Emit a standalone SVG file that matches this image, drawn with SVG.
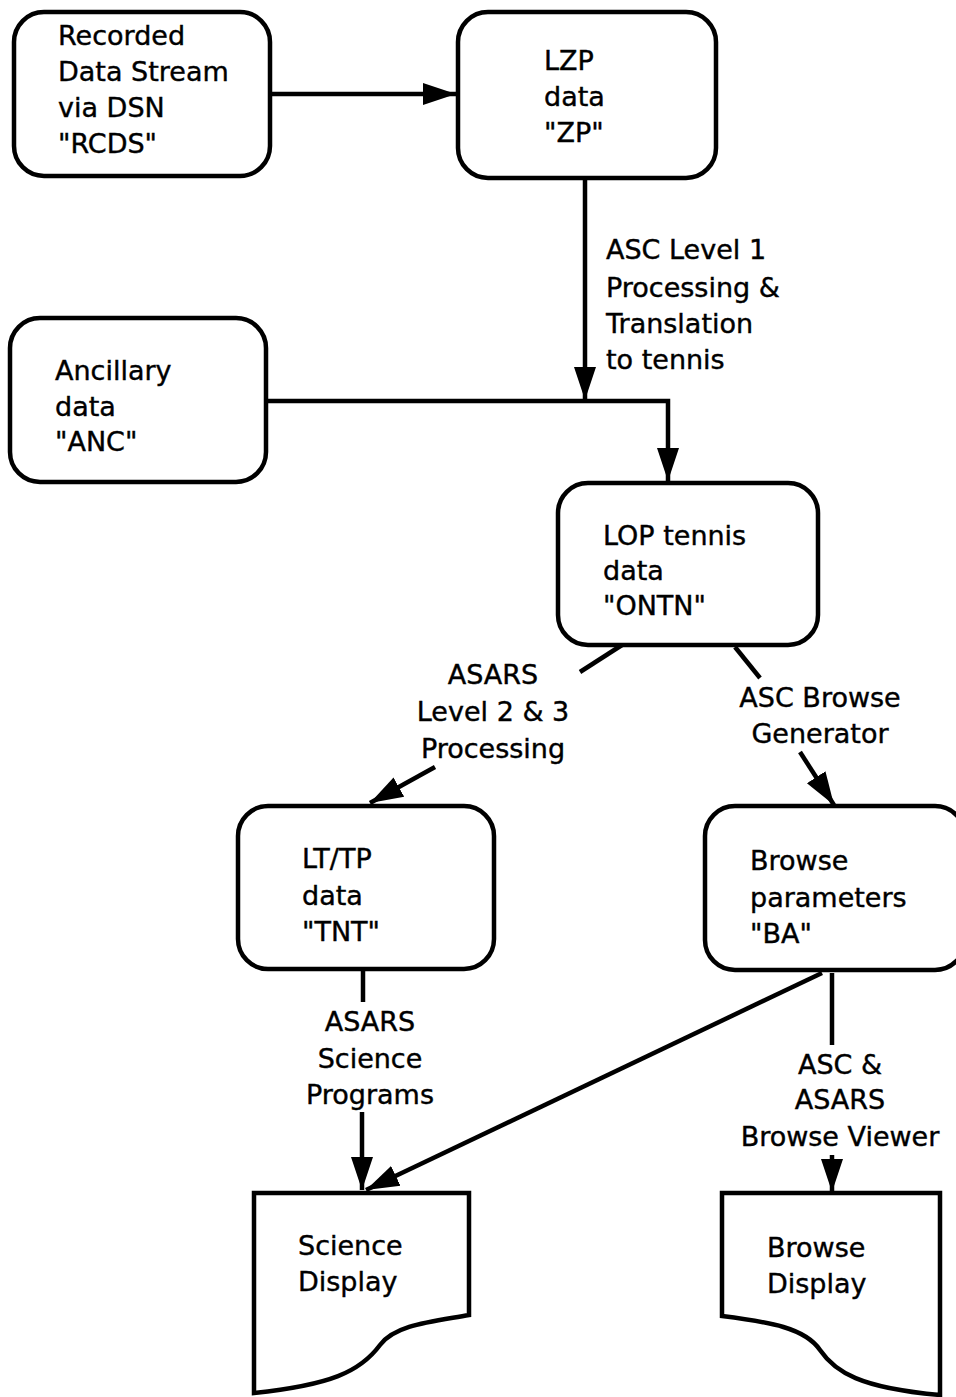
<svg xmlns="http://www.w3.org/2000/svg" width="956" height="1397" viewBox="0 0 956 1397">
<style>
.box{fill:#fff;stroke:#000;stroke-width:4.5}
.ln{fill:none;stroke:#000;stroke-width:4.5}
text{font-family:"DejaVu Sans","Liberation Sans",sans-serif;font-size:27px;fill:#000;stroke:#000;stroke-width:0.4}
.c{text-anchor:middle}
</style>
<defs>
<marker id="ah" markerUnits="userSpaceOnUse" markerWidth="36" markerHeight="26" refX="33" refY="13" orient="auto">
<path d="M0,2 L33,13 L0,24 Z" fill="#000"/>
</marker>
</defs>
<rect width="956" height="1397" fill="#fff"/>
<g id="connectors">
<line class="ln" x1="270" y1="94" x2="456" y2="94" marker-end="url(#ah)"/>
<line class="ln" x1="585" y1="178" x2="585" y2="400" marker-end="url(#ah)"/>
<polyline class="ln" points="266,401 668,401 668,481" marker-end="url(#ah)"/>
<line class="ln" x1="622" y1="645" x2="580" y2="672"/>
<line class="ln" x1="435" y1="767" x2="370" y2="803" marker-end="url(#ah)"/>
<line class="ln" x1="735" y1="647" x2="760" y2="678"/>
<line class="ln" x1="800" y1="752" x2="834" y2="805" marker-end="url(#ah)"/>
<line class="ln" x1="363" y1="970" x2="363" y2="1002"/>
<line class="ln" x1="362" y1="1112" x2="362" y2="1190" marker-end="url(#ah)"/>
<line class="ln" x1="822" y1="973" x2="366" y2="1190" marker-end="url(#ah)"/>
<line class="ln" x1="832" y1="973" x2="832" y2="1045"/>
<line class="ln" x1="832" y1="1155" x2="832" y2="1192" marker-end="url(#ah)"/>
<text class="c"><tspan x="840" y="1074">ASC &amp;</tspan><tspan x="840" y="1109">ASARS</tspan><tspan x="840" y="1146">Browse Viewer</tspan></text>
<text class="c"><tspan x="370" y="1031">ASARS</tspan><tspan x="370" y="1068">Science</tspan><tspan x="370" y="1104">Programs</tspan></text>
<text class="c"><tspan x="820" y="707">ASC Browse</tspan><tspan x="820" y="743">Generator</tspan></text>
<text class="c"><tspan x="493" y="684">ASARS</tspan><tspan x="493" y="721">Level 2 &amp; 3</tspan><tspan x="493" y="758">Processing</tspan></text>
<text><tspan x="606" y="259">ASC Level 1</tspan><tspan x="606" y="297">Processing &amp;</tspan><tspan x="606" y="333">Translation</tspan><tspan x="606" y="369">to tennis</tspan></text>
</g>
<g id="rcds">
<rect class="box" x="14" y="12" width="256" height="164" rx="30"/>
<text><tspan x="58" y="45">Recorded</tspan><tspan x="58" y="81">Data Stream</tspan><tspan x="58" y="117">via DSN</tspan><tspan x="58" y="153">"RCDS"</tspan></text>
</g>
<g id="zp">
<rect class="box" x="458" y="12" width="258" height="166" rx="30"/>
<text><tspan x="544" y="70">LZP</tspan><tspan x="544" y="106">data</tspan><tspan x="544" y="142">"ZP"</tspan></text>
</g>
<g id="anc">
<rect class="box" x="10" y="318" width="256" height="164" rx="30"/>
<text><tspan x="55" y="380">Ancillary</tspan><tspan x="55" y="416">data</tspan><tspan x="55" y="451">"ANC"</tspan></text>
</g>
<g id="ontn">
<rect class="box" x="558" y="483" width="260" height="162" rx="30"/>
<text><tspan x="603" y="545">LOP tennis</tspan><tspan x="603" y="580">data</tspan><tspan x="603" y="615">"ONTN"</tspan></text>
</g>
<g id="tnt">
<rect class="box" x="238" y="806" width="256" height="163" rx="30"/>
<text><tspan x="302" y="868">LT/TP</tspan><tspan x="302" y="905">data</tspan><tspan x="302" y="941">"TNT"</tspan></text>
</g>
<g id="ba">
<rect class="box" x="705" y="806" width="260" height="164" rx="30"/>
<text><tspan x="750" y="870">Browse</tspan><tspan x="750" y="907">parameters</tspan><tspan x="750" y="943">"BA"</tspan></text>
</g>
<g id="science-display">
<path class="box" d="M254,1193 L469,1193 L469,1315 C430,1322 395,1325 380,1345 C360,1372 330,1385 254,1393 Z"/>
<text><tspan x="298" y="1255">Science</tspan><tspan x="298" y="1291">Display</tspan></text>
</g>
<g id="browse-display">
<path class="box" d="M722,1193 L940,1193 L940,1395 C860,1388 835,1372 820,1350 C805,1328 770,1322 722,1316 Z"/>
<text><tspan x="767" y="1257">Browse</tspan><tspan x="767" y="1293">Display</tspan></text>
</g>
</svg>
